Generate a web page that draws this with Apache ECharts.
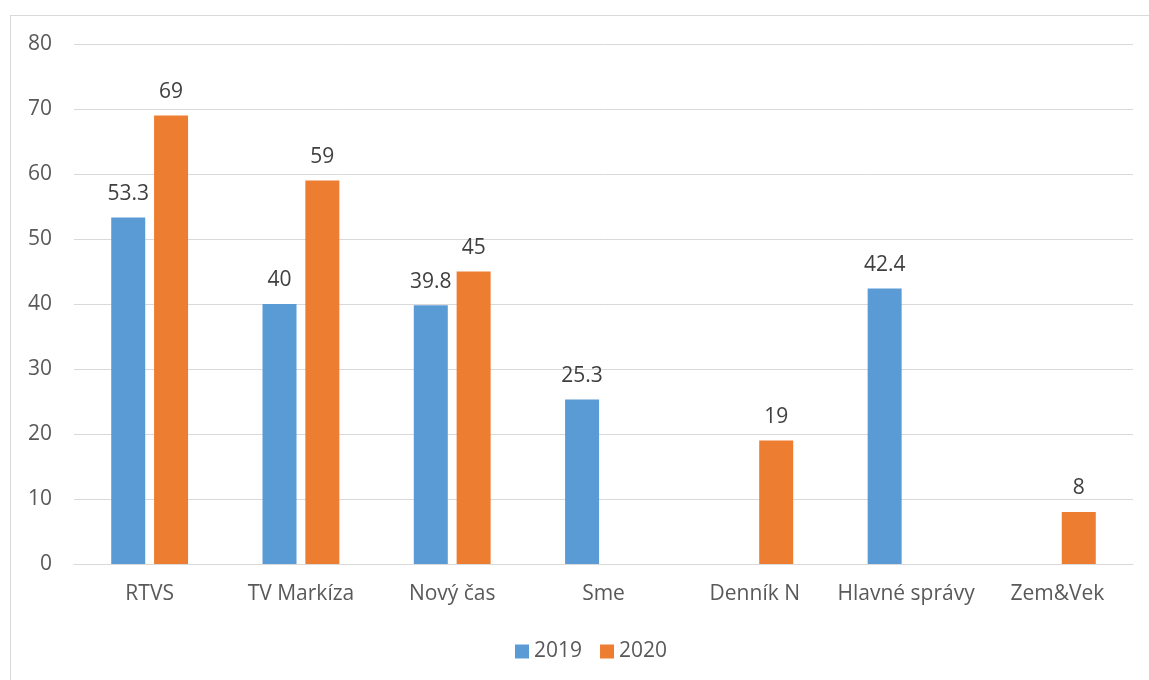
<!DOCTYPE html>
<html>
<head>
<meta charset="utf-8">
<script src="https://cdn.jsdelivr.net/npm/echarts@6/dist/echarts.min.js"></script>
<style>
  html, body { margin: 0; padding: 0; background: #fff; }
  #frame { position: absolute; left: 10px; top: 15px; width: 1200px; height: 700px; border: 1px solid #d9d9d9; }
  #chart { position: absolute; left: 0; top: 0; width: 1149px; height: 680px; }
</style>
</head>
<body>
<div id="frame"></div>
<div id="chart"></div>
<script>
// data
const categories = ['RTVS', 'TV Markíza', 'Nový čas', 'Sme', 'Denník N', 'Hlavné správy', 'Zem&Vek']
const values2019 = [53.3, 40, 39.8, 25.3, '-', 42.4, '-']
const values2020 = [69, 59, 45, '-', 19, '-', 8]
const seriesNames = ['2019', '2020']

const textColor = '#595959'
const fontFamily = '"Open Sans", sans-serif'

const chart = echarts.init(document.getElementById('chart'))

const label = {
  show: true,
  position: 'top',
  distance: 13,
  color: '#404040',
  fontSize: 21,
  fontFamily: fontFamily
}

chart.setOption({
  animation: false,
  textStyle: { fontFamily: fontFamily },
  grid: { left: 74, right: 16, top: 44, bottom: 116 },
  legend: {
    top: 636,
    left: 510,
    itemWidth: 14,
    itemHeight: 14,
    itemGap: 18,
    icon: 'rect',
    textStyle: { color: textColor, fontSize: 21, fontFamily: fontFamily },
    data: seriesNames
  },
  xAxis: {
    type: 'category',
    data: categories,
    axisLine: { lineStyle: { color: '#d9d9d9', width: 1 } },
    axisTick: { show: false },
    axisLabel: { color: textColor, fontSize: 21, margin: 20, interval: 0 }
  },
  yAxis: {
    type: 'value',
    min: 0,
    max: 80,
    interval: 10,
    axisLine: { show: false },
    axisTick: { show: false },
    axisLabel: { color: textColor, fontSize: 21, margin: 22 },
    splitLine: { lineStyle: { color: '#d9d9d9', width: 1 } }
  },
  series: [
    {
      name: seriesNames[0],
      type: 'bar',
      data: values2019,
      barWidth: 34,
      barGap: '26%',
      itemStyle: { color: '#5B9BD5' },
      label: label
    },
    {
      name: seriesNames[1],
      type: 'bar',
      data: values2020,
      barWidth: 34,
      itemStyle: { color: '#ED7D31' },
      label: label
    }
  ]
})
</script>
</body>
</html>
